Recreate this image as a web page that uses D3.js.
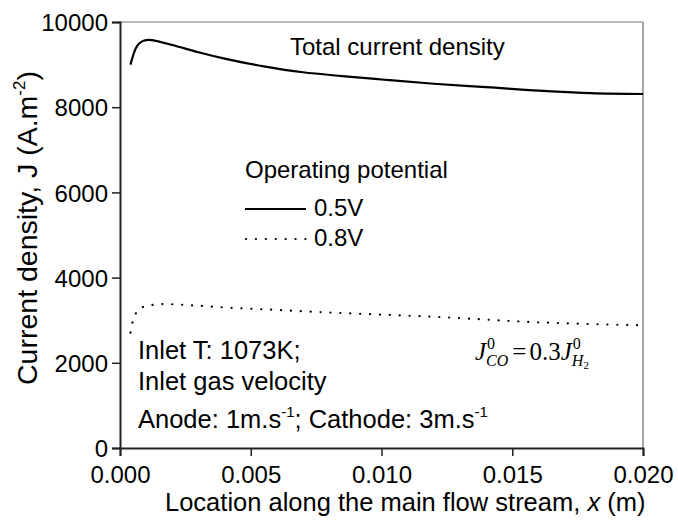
<!DOCTYPE html>
<html>
<head>
<meta charset="utf-8">
<script src="https://cdn.jsdelivr.net/npm/d3@7"></script>
<style>
  body { margin: 0; background: #fff; }
  svg { display: block; }
  text { font-family: "Liberation Sans", Arial, sans-serif; fill: #000; }
</style>
</head>
<body>
<div id="chart"></div>
<script>
// data
const xTicks = [0, 0.005, 0.010, 0.015, 0.020]
const yTicks = [0, 2000, 4000, 6000, 8000, 10000]

const x05 = [0.0004, 0.0006, 0.0009, 0.0011, 0.0015, 0.002, 0.003, 0.004, 0.0055, 0.007, 0.0085, 0.010, 0.012, 0.014, 0.0165, 0.018, 0.020]
const j05 = [9000, 9380, 9560, 9580, 9540, 9460, 9290, 9140, 8960, 8820, 8730, 8650, 8550, 8470, 8370, 8330, 8310]

const x08 = [0.0004, 0.0005, 0.0008, 0.0013, 0.0017, 0.0023, 0.004, 0.006, 0.0084, 0.0122, 0.016, 0.020]
const j08 = [2710, 3000, 3290, 3365, 3380, 3365, 3300, 3240, 3170, 3075, 2950, 2880]

const cfg = {
	w: 678,
	h: 525,
	margin: { top: 22, right: 35, bottom: 77, left: 120 }, // plot box in page pixels
}

const innerW = cfg.w - cfg.margin.left - cfg.margin.right
const innerH = cfg.h - cfg.margin.top - cfg.margin.bottom

const svg = d3.select('#chart').append('svg').attr('width', cfg.w).attr('height', cfg.h)
const g = svg.append('g').attr('transform', 'translate(' + cfg.margin.left + ',' + cfg.margin.top + ')')

const xScale = d3.scaleLinear().domain([0, 0.02]).range([0, innerW])
const yScale = d3.scaleLinear().domain([0, 10000]).range([innerH, 0])

// frame: top and right are light grey
g.append('line').attr('x1', 0).attr('x2', innerW).attr('y1', 0).attr('y2', 0)
	.style('stroke', '#a0a0a0').style('stroke-width', 1.5)
g.append('line').attr('x1', innerW).attr('x2', innerW).attr('y1', 0).attr('y2', innerH)
	.style('stroke', '#8a8a8a').style('stroke-width', 1.5)

// axes
const xAxis = g.append('g').attr('transform', 'translate(0,' + innerH + ')')
	.call(d3.axisBottom(xScale).tickValues(xTicks).tickFormat(d3.format('.3f')).tickSizeOuter(0).tickSize(8).tickPadding(7))
const yAxis = g.append('g')
	.call(d3.axisLeft(yScale).tickValues(yTicks).tickFormat(d3.format('d')).tickSizeOuter(0).tickSize(8).tickPadding(4))

;[xAxis, yAxis].forEach((a) => {
	a.select('.domain').style('stroke', '#222').style('stroke-width', 2)
	a.selectAll('.tick line').style('stroke', '#222').style('stroke-width', 1.5)
	a.selectAll('.tick text').style('font-size', '24px').style('font-family', '"Liberation Sans", Arial, sans-serif').attr('fill', '#000')
})
yAxis.selectAll('.tick text').attr('dy', '0.36em')
xAxis.selectAll('.tick text').attr('dy', '0.85em')

// curves
const line = d3.line()
	.x((d) => xScale(d[0]))
	.y((d) => yScale(d[1]))
	.curve(d3.curveMonotoneX)

g.append('path')
	.datum(x05.map((v, i) => [v, j05[i]]))
	.attr('d', line)
	.style('fill', 'none')
	.style('stroke', '#000')
	.style('stroke-width', 2.2)

g.append('path')
	.datum(x08.map((v, i) => [v, j08[i]]))
	.attr('d', line)
	.style('fill', 'none')
	.style('stroke', '#000')
	.style('stroke-width', 2.2)
	.style('stroke-linecap', 'round')
	.style('stroke-dasharray', '0.1,9.8')

// labels inside the plot
svg.append('text').attr('x', 290).attr('y', 55).style('font-size', '24px').text('Total current density')

svg.append('text').attr('x', 245).attr('y', 178).style('font-size', '24px').text('Operating potential')
svg.append('line').attr('x1', 245).attr('x2', 306).attr('y1', 209).attr('y2', 209)
	.style('stroke', '#000').style('stroke-width', 2.2)
svg.append('text').attr('x', 314).attr('y', 216).style('font-size', '24px').text('0.5V')
svg.append('line').attr('x1', 246).attr('x2', 306).attr('y1', 239).attr('y2', 239)
	.style('stroke', '#000').style('stroke-width', 2.2).style('stroke-linecap', 'round').style('stroke-dasharray', '0.1,9.8')
svg.append('text').attr('x', 314).attr('y', 246).style('font-size', '24px').text('0.8V')

svg.append('text').attr('x', 138).attr('y', 359).style('font-size', '25.5px').text('Inlet T: 1073K;')
svg.append('text').attr('x', 138).attr('y', 390).style('font-size', '25.5px').text('Inlet gas velocity')
const anode = svg.append('text').attr('x', 138).attr('y', 428).style('font-size', '25.5px')
anode.append('tspan').text('Anode: 1m.s')
anode.append('tspan').attr('dy', -11).style('font-size', '15px').text('-1')
anode.append('tspan').attr('dy', 11).text('; Cathode: 3m.s')
anode.append('tspan').attr('dy', -11).style('font-size', '15px').text('-1')

// formula J^0_CO = 0.3 J^0_H2, placed piece by piece
const fy = 360
let cx = 475
function piece(txt, opts) {
	const t = svg.append('text')
		.attr('x', cx + (opts.dx || 0))
		.attr('y', fy + (opts.dy || 0))
		.style('font-family', '"Liberation Serif", "Times New Roman", serif')
		.style('font-size', (opts.size || 25) + 'px')
		.style('font-style', opts.italic ? 'italic' : 'normal')
		.text(txt)
	const w = t.node().getComputedTextLength()
	if (!opts.stay) cx += w + (opts.dx || 0) + (opts.gap || 0)
	return w
}
piece('J', { italic: true })
piece('0', { size: 16, dy: -11, dx: 1, stay: true })
piece('CO', { size: 16, dy: 6, italic: true, gap: 4 })
piece('=', { gap: 3 })
piece('0.3', {})
piece('J', { italic: true })
piece('0', { size: 16, dy: -11, dx: 1, stay: true })
piece('H', { size: 16, dy: 6, italic: true })
piece('2', { size: 11, dy: 9 })

// axis titles
const xt = svg.append('text').attr('x', 165).attr('y', 511).style('font-size', '25.5px')
xt.append('tspan').text('Location along the main flow stream, ')
xt.append('tspan').style('font-style', 'italic').text('x')
xt.append('tspan').text(' (m)')

const yt = svg.append('text')
	.attr('transform', 'translate(37,228) rotate(-90)')
	.attr('text-anchor', 'middle')
	.style('font-size', '28.5px')
yt.append('tspan').text('Current density, J (A.m')
yt.append('tspan').attr('dy', -12).style('font-size', '17px').text('-2')
yt.append('tspan').attr('dy', 12).text(')')
</script>
</body>
</html>
